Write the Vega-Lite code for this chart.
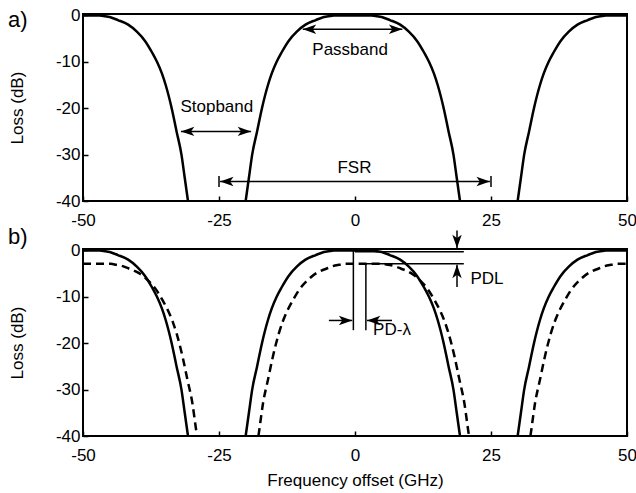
{
  "$schema": "https://vega.github.io/schema/vega-lite/v6.json",
  "padding": {"left": 7, "top": 5, "right": 0, "bottom": 0},
  "background": "white",
  "config": {
    "font": "Liberation Sans",
    "view": {"stroke": "black", "strokeWidth": 2},
    "axis": {
      "domain": false, "grid": false, "ticks": true, "tickSize": -5, "tickWidth": 1.5, "tickColor": "black",
      "labelFont": "Liberation Sans", "labelFontSize": 17, "labelColor": "black", "labelFlush": false,
      "labelExpr": "datum.value < 0 ? '-' + abs(datum.value) : '' + datum.value",
      "titleFont": "Liberation Sans", "titleFontSize": 17, "titleFontWeight": "normal", "titleColor": "black"
    },
    "axisX": {"labelPadding": 16},
    "axisY": {"labelPadding": 8, "titlePadding": 29},
    "title": {"font": "Liberation Sans", "fontSize": 22, "fontWeight": "normal", "color": "black"}
  },
  "datasets": {
    "curves": [
      {"series": "TE", "seg": "L", "x": -50, "y": 0}, {"series": "TE", "seg": "L", "x": -46.9, "y": 0}, {"series": "TE", "seg": "L", "x": -45.9, "y": -0.2}, {"series": "TE", "seg": "L", "x": -44.7, "y": -0.5}, {"series": "TE", "seg": "L", "x": -43.6, "y": -1}, {"series": "TE", "seg": "L", "x": -41.7, "y": -2}, {"series": "TE", "seg": "L", "x": -40.1, "y": -3.5}, {"series": "TE", "seg": "L", "x": -38.6, "y": -5.5}, {"series": "TE", "seg": "L", "x": -37.3, "y": -8}, {"series": "TE", "seg": "L", "x": -36.4, "y": -10}, {"series": "TE", "seg": "L", "x": -35.5, "y": -12.5}, {"series": "TE", "seg": "L", "x": -34.8, "y": -15}, {"series": "TE", "seg": "L", "x": -33.7, "y": -20}, {"series": "TE", "seg": "L", "x": -32.8, "y": -25}, {"series": "TE", "seg": "L", "x": -31.9, "y": -30}, {"series": "TE", "seg": "L", "x": -31.3, "y": -35}, {"series": "TE", "seg": "L", "x": -30.7, "y": -40},
      {"series": "TE", "seg": "C", "x": -20.1, "y": -40}, {"series": "TE", "seg": "C", "x": -19.5, "y": -35}, {"series": "TE", "seg": "C", "x": -18.9, "y": -30}, {"series": "TE", "seg": "C", "x": -18.0, "y": -25}, {"series": "TE", "seg": "C", "x": -17.1, "y": -20}, {"series": "TE", "seg": "C", "x": -16.0, "y": -15}, {"series": "TE", "seg": "C", "x": -15.3, "y": -12.5}, {"series": "TE", "seg": "C", "x": -14.4, "y": -10}, {"series": "TE", "seg": "C", "x": -13.5, "y": -8}, {"series": "TE", "seg": "C", "x": -12.2, "y": -5.5}, {"series": "TE", "seg": "C", "x": -10.7, "y": -3.5}, {"series": "TE", "seg": "C", "x": -9.1, "y": -2}, {"series": "TE", "seg": "C", "x": -7.2, "y": -1}, {"series": "TE", "seg": "C", "x": -6.1, "y": -0.5}, {"series": "TE", "seg": "C", "x": -4.9, "y": -0.2}, {"series": "TE", "seg": "C", "x": -3.9, "y": 0}, {"series": "TE", "seg": "C", "x": 3.1, "y": 0}, {"series": "TE", "seg": "C", "x": 4.1, "y": -0.2}, {"series": "TE", "seg": "C", "x": 5.3, "y": -0.5}, {"series": "TE", "seg": "C", "x": 6.4, "y": -1}, {"series": "TE", "seg": "C", "x": 8.3, "y": -2}, {"series": "TE", "seg": "C", "x": 9.9, "y": -3.5}, {"series": "TE", "seg": "C", "x": 11.4, "y": -5.5}, {"series": "TE", "seg": "C", "x": 12.7, "y": -8}, {"series": "TE", "seg": "C", "x": 13.6, "y": -10}, {"series": "TE", "seg": "C", "x": 14.5, "y": -12.5}, {"series": "TE", "seg": "C", "x": 15.2, "y": -15}, {"series": "TE", "seg": "C", "x": 16.3, "y": -20}, {"series": "TE", "seg": "C", "x": 17.2, "y": -25}, {"series": "TE", "seg": "C", "x": 18.1, "y": -30}, {"series": "TE", "seg": "C", "x": 18.7, "y": -35}, {"series": "TE", "seg": "C", "x": 19.3, "y": -40},
      {"series": "TE", "seg": "R", "x": 29.9, "y": -40}, {"series": "TE", "seg": "R", "x": 30.5, "y": -35}, {"series": "TE", "seg": "R", "x": 31.1, "y": -30}, {"series": "TE", "seg": "R", "x": 32.0, "y": -25}, {"series": "TE", "seg": "R", "x": 32.9, "y": -20}, {"series": "TE", "seg": "R", "x": 34.0, "y": -15}, {"series": "TE", "seg": "R", "x": 34.7, "y": -12.5}, {"series": "TE", "seg": "R", "x": 35.6, "y": -10}, {"series": "TE", "seg": "R", "x": 36.5, "y": -8}, {"series": "TE", "seg": "R", "x": 37.8, "y": -5.5}, {"series": "TE", "seg": "R", "x": 39.3, "y": -3.5}, {"series": "TE", "seg": "R", "x": 40.9, "y": -2}, {"series": "TE", "seg": "R", "x": 42.8, "y": -1}, {"series": "TE", "seg": "R", "x": 43.9, "y": -0.5}, {"series": "TE", "seg": "R", "x": 45.1, "y": -0.2}, {"series": "TE", "seg": "R", "x": 46.1, "y": 0}, {"series": "TE", "seg": "R", "x": 50, "y": 0},
      {"series": "TM", "seg": "L", "x": -50, "y": -2.9}, {"series": "TM", "seg": "L", "x": -44.9, "y": -2.9}, {"series": "TM", "seg": "L", "x": -43.9, "y": -3.1}, {"series": "TM", "seg": "L", "x": -42.7, "y": -3.4}, {"series": "TM", "seg": "L", "x": -41.6, "y": -3.9}, {"series": "TM", "seg": "L", "x": -39.7, "y": -4.9}, {"series": "TM", "seg": "L", "x": -38.1, "y": -6.4}, {"series": "TM", "seg": "L", "x": -36.6, "y": -8.4}, {"series": "TM", "seg": "L", "x": -35.3, "y": -10.9}, {"series": "TM", "seg": "L", "x": -34.4, "y": -12.9}, {"series": "TM", "seg": "L", "x": -33.5, "y": -15.4}, {"series": "TM", "seg": "L", "x": -32.8, "y": -17.9}, {"series": "TM", "seg": "L", "x": -31.7, "y": -22.9}, {"series": "TM", "seg": "L", "x": -30.8, "y": -27.9}, {"series": "TM", "seg": "L", "x": -29.9, "y": -32.9}, {"series": "TM", "seg": "L", "x": -29.3, "y": -37.9}, {"series": "TM", "seg": "L", "x": -29.05, "y": -40},
      {"series": "TM", "seg": "C", "x": -17.75, "y": -40}, {"series": "TM", "seg": "C", "x": -17.5, "y": -37.9}, {"series": "TM", "seg": "C", "x": -16.9, "y": -32.9}, {"series": "TM", "seg": "C", "x": -16.0, "y": -27.9}, {"series": "TM", "seg": "C", "x": -15.1, "y": -22.9}, {"series": "TM", "seg": "C", "x": -14.0, "y": -17.9}, {"series": "TM", "seg": "C", "x": -13.3, "y": -15.4}, {"series": "TM", "seg": "C", "x": -12.4, "y": -12.9}, {"series": "TM", "seg": "C", "x": -11.5, "y": -10.9}, {"series": "TM", "seg": "C", "x": -10.2, "y": -8.4}, {"series": "TM", "seg": "C", "x": -8.7, "y": -6.4}, {"series": "TM", "seg": "C", "x": -7.1, "y": -4.9}, {"series": "TM", "seg": "C", "x": -5.2, "y": -3.9}, {"series": "TM", "seg": "C", "x": -4.1, "y": -3.4}, {"series": "TM", "seg": "C", "x": -2.9, "y": -3.1}, {"series": "TM", "seg": "C", "x": -1.9, "y": -2.9}, {"series": "TM", "seg": "C", "x": 5.1, "y": -2.9}, {"series": "TM", "seg": "C", "x": 6.1, "y": -3.1}, {"series": "TM", "seg": "C", "x": 7.3, "y": -3.4}, {"series": "TM", "seg": "C", "x": 8.4, "y": -3.9}, {"series": "TM", "seg": "C", "x": 10.3, "y": -4.9}, {"series": "TM", "seg": "C", "x": 11.9, "y": -6.4}, {"series": "TM", "seg": "C", "x": 13.4, "y": -8.4}, {"series": "TM", "seg": "C", "x": 14.7, "y": -10.9}, {"series": "TM", "seg": "C", "x": 15.6, "y": -12.9}, {"series": "TM", "seg": "C", "x": 16.5, "y": -15.4}, {"series": "TM", "seg": "C", "x": 17.2, "y": -17.9}, {"series": "TM", "seg": "C", "x": 18.3, "y": -22.9}, {"series": "TM", "seg": "C", "x": 19.2, "y": -27.9}, {"series": "TM", "seg": "C", "x": 20.1, "y": -32.9}, {"series": "TM", "seg": "C", "x": 20.7, "y": -37.9}, {"series": "TM", "seg": "C", "x": 20.95, "y": -40},
      {"series": "TM", "seg": "R", "x": 32.25, "y": -40}, {"series": "TM", "seg": "R", "x": 32.5, "y": -37.9}, {"series": "TM", "seg": "R", "x": 33.1, "y": -32.9}, {"series": "TM", "seg": "R", "x": 34.0, "y": -27.9}, {"series": "TM", "seg": "R", "x": 34.9, "y": -22.9}, {"series": "TM", "seg": "R", "x": 36.0, "y": -17.9}, {"series": "TM", "seg": "R", "x": 36.7, "y": -15.4}, {"series": "TM", "seg": "R", "x": 37.6, "y": -12.9}, {"series": "TM", "seg": "R", "x": 38.5, "y": -10.9}, {"series": "TM", "seg": "R", "x": 39.8, "y": -8.4}, {"series": "TM", "seg": "R", "x": 41.3, "y": -6.4}, {"series": "TM", "seg": "R", "x": 42.9, "y": -4.9}, {"series": "TM", "seg": "R", "x": 44.8, "y": -3.9}, {"series": "TM", "seg": "R", "x": 45.9, "y": -3.4}, {"series": "TM", "seg": "R", "x": 47.1, "y": -3.1}, {"series": "TM", "seg": "R", "x": 48.1, "y": -2.9}, {"series": "TM", "seg": "R", "x": 50, "y": -2.9}
    ],
    "rules": [
      {"panel": "a", "x": -9.6, "y": -3.0, "x2": 8.7, "y2": -3.0},
      {"panel": "a", "x": -32.0, "y": -25, "x2": -19.1, "y2": -25},
      {"panel": "a", "x": -24.8, "y": -35.8, "x2": 24.8, "y2": -35.8},
      {"panel": "a", "x": -25, "y": -34.6, "x2": -25, "y2": -37.0},
      {"panel": "a", "x": 25, "y": -34.6, "x2": 25, "y2": -37.0},
      {"panel": "b", "x": -0.3, "y": 0.3, "x2": -0.3, "y2": -17.2},
      {"panel": "b", "x": 2.0, "y": -2.9, "x2": 2.0, "y2": -17.2},
      {"panel": "b", "x": 2.0, "y": -2.9, "x2": 20.0, "y2": -2.9},
      {"panel": "b", "x": 0, "y": -0.3, "x2": 20.0, "y2": -0.3},
      {"panel": "b", "x": 18.75, "y": 4.3, "x2": 18.75, "y2": 0.5},
      {"panel": "b", "x": 18.75, "y": -7.9, "x2": 18.75, "y2": -3.1},
      {"panel": "b", "x": -4.8, "y": -15.1, "x2": -0.5, "y2": -15.1},
      {"panel": "b", "x": 6.8, "y": -15.1, "x2": 2.2, "y2": -15.1}
    ],
    "heads": [
      {"panel": "a", "x": -9.6, "y": -3.0, "dir": "left"},
      {"panel": "a", "x": 8.7, "y": -3.0, "dir": "right"},
      {"panel": "a", "x": -32.0, "y": -25, "dir": "left"},
      {"panel": "a", "x": -19.1, "y": -25, "dir": "right"},
      {"panel": "a", "x": -24.8, "y": -35.8, "dir": "left"},
      {"panel": "a", "x": 24.8, "y": -35.8, "dir": "right"},
      {"panel": "b", "x": 18.75, "y": 0.5, "dir": "down"},
      {"panel": "b", "x": 18.75, "y": -3.1, "dir": "up"},
      {"panel": "b", "x": -0.5, "y": -15.1, "dir": "right"},
      {"panel": "b", "x": 2.2, "y": -15.1, "dir": "left"}
    ],
    "labels": [
      {"panel": "a", "x": -0.9, "y": -7.4, "text": "Passband"},
      {"panel": "a", "x": -25.4, "y": -19.7, "text": "Stopband"},
      {"panel": "a", "x": -0.1, "y": -32.9, "text": "FSR"},
      {"panel": "b", "x": 24.25, "y": -6.1, "text": "PDL"},
      {"panel": "b", "x": 6.8, "y": -17.2, "text": "PD-λ"}
    ]
  },
  "spacing": 48,
  "bounds": "flush",
  "vconcat": [
    {
      "width": 544, "height": 187,
      "title": {"text": "a)", "anchor": "start", "frame": "group", "orient": "top", "align": "left", "baseline": "middle", "offset": 0, "dx": -75, "dy": 36},
      "layer": [
        {
          "data": {"name": "curves"},
          "transform": [{"filter": "datum.series == 'TE'"}],
          "mark": {"type": "line", "color": "black", "strokeWidth": 2.5, "interpolate": "monotone"},
          "encoding": {
            "x": {"field": "x", "type": "quantitative", "scale": {"domain": [-50, 50], "nice": false, "zero": false}, "axis": {"values": [-50, -25, 0, 25, 50], "title": null}},
            "y": {"field": "y", "type": "quantitative", "scale": {"domain": [-40, 0.3], "nice": false, "zero": false}, "axis": {"values": [0, -10, -20, -30, -40], "title": "Loss (dB)"}},
            "detail": {"field": "seg"}
          }
        },
        {
          "data": {"name": "rules"},
          "transform": [{"filter": "datum.panel == 'a'"}],
          "mark": {"type": "rule", "color": "black", "strokeWidth": 1.5},
          "encoding": {
            "x": {"field": "x", "type": "quantitative"}, "y": {"field": "y", "type": "quantitative"},
            "x2": {"field": "x2"}, "y2": {"field": "y2"}
          }
        },
        {
          "data": {"name": "heads"},
          "transform": [{"filter": "datum.panel == 'a'"}],
          "mark": {"type": "point", "filled": true, "color": "black", "opacity": 1, "size": 180, "strokeWidth": 0},
          "encoding": {
            "x": {"field": "x", "type": "quantitative"}, "y": {"field": "y", "type": "quantitative"},
            "shape": {"field": "dir", "type": "nominal", "legend": null, "scale": {"domain": ["right", "left", "down", "up"], "range": ["M0,0L-2,-0.7L-1.5,0L-2,0.7Z", "M0,0L2,-0.7L1.5,0L2,0.7Z", "M0,0L-0.7,-2L0,-1.5L0.7,-2Z", "M0,0L-0.7,2L0,1.5L0.7,2Z"]}}
          }
        },
        {
          "data": {"name": "labels"},
          "transform": [{"filter": "datum.panel == 'a'"}],
          "mark": {"type": "text", "font": "Liberation Sans", "fontSize": 17, "color": "black", "align": "center", "baseline": "middle"},
          "encoding": {
            "x": {"field": "x", "type": "quantitative"}, "y": {"field": "y", "type": "quantitative"},
            "text": {"field": "text"}
          }
        }
      ]
    },
    {
      "width": 544, "height": 187,
      "title": {"text": "b)", "anchor": "start", "frame": "group", "orient": "top", "align": "left", "baseline": "middle", "offset": 0, "dx": -75, "dy": 29},
      "layer": [
        {
          "data": {"name": "curves"},
          "transform": [{"filter": "datum.series == 'TE'"}],
          "mark": {"type": "line", "color": "black", "strokeWidth": 2.5, "interpolate": "monotone"},
          "encoding": {
            "x": {"field": "x", "type": "quantitative", "scale": {"domain": [-50, 50], "nice": false, "zero": false}, "axis": {"values": [-50, -25, 0, 25, 50], "title": "Frequency offset (GHz)", "titlePadding": 9}},
            "y": {"field": "y", "type": "quantitative", "scale": {"domain": [-40, 0.3], "nice": false, "zero": false}, "axis": {"values": [0, -10, -20, -30, -40], "title": "Loss (dB)"}},
            "detail": {"field": "seg"}
          }
        },
        {
          "data": {"name": "curves"},
          "transform": [{"filter": "datum.series == 'TM'"}],
          "mark": {"type": "line", "color": "black", "strokeWidth": 2.5, "strokeDash": [8, 5], "interpolate": "monotone"},
          "encoding": {
            "x": {"field": "x", "type": "quantitative"}, "y": {"field": "y", "type": "quantitative"},
            "detail": {"field": "seg"}
          }
        },
        {
          "data": {"name": "rules"},
          "transform": [{"filter": "datum.panel == 'b'"}],
          "mark": {"type": "rule", "color": "black", "strokeWidth": 1.5},
          "encoding": {
            "x": {"field": "x", "type": "quantitative"}, "y": {"field": "y", "type": "quantitative"},
            "x2": {"field": "x2"}, "y2": {"field": "y2"}
          }
        },
        {
          "data": {"name": "heads"},
          "transform": [{"filter": "datum.panel == 'b'"}],
          "mark": {"type": "point", "filled": true, "color": "black", "opacity": 1, "size": 180, "strokeWidth": 0},
          "encoding": {
            "x": {"field": "x", "type": "quantitative"}, "y": {"field": "y", "type": "quantitative"},
            "shape": {"field": "dir", "type": "nominal", "legend": null, "scale": {"domain": ["right", "left", "down", "up"], "range": ["M0,0L-2,-0.7L-1.5,0L-2,0.7Z", "M0,0L2,-0.7L1.5,0L2,0.7Z", "M0,0L-0.7,-2L0,-1.5L0.7,-2Z", "M0,0L-0.7,2L0,1.5L0.7,2Z"]}}
          }
        },
        {
          "data": {"name": "labels"},
          "transform": [{"filter": "datum.panel == 'b'"}],
          "mark": {"type": "text", "font": "Liberation Sans", "fontSize": 17, "color": "black", "align": "center", "baseline": "middle"},
          "encoding": {
            "x": {"field": "x", "type": "quantitative"}, "y": {"field": "y", "type": "quantitative"},
            "text": {"field": "text"}
          }
        }
      ]
    }
  ]
}
